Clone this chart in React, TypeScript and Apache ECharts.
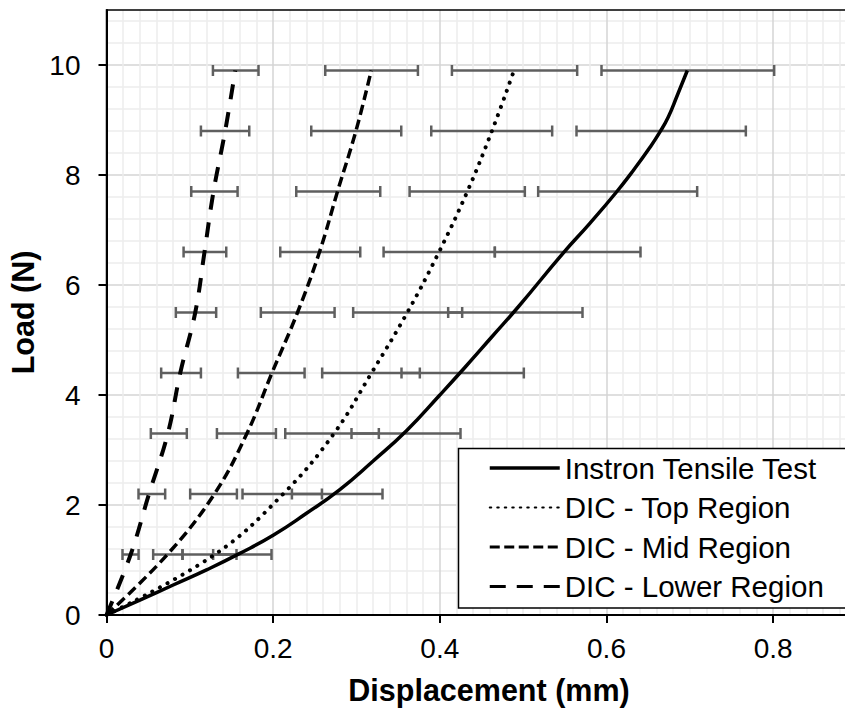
import React, { useEffect, useRef } from "react";
import * as echarts from "echarts";

// ---- Data ----
const dicLoads = [0, 1.1, 2.2, 3.3, 4.4, 5.5, 6.6, 7.7, 8.8, 9.9];
const topDisp = [0, 0.13, 0.212, 0.273, 0.318, 0.361, 0.399, 0.433, 0.4625, 0.489];
const midDisp = [0, 0.073, 0.1295, 0.1685, 0.1985, 0.2292, 0.2556, 0.2772, 0.2993, 0.3177];
const lowerDisp = [0, 0.029, 0.051, 0.0736, 0.0885, 0.1065, 0.1176, 0.1284, 0.1424, 0.1545];

const instronDisp = [0, 0.04, 0.08, 0.12, 0.16, 0.2, 0.24, 0.28, 0.32, 0.36, 0.4, 0.43, 0.462, 0.494, 0.548, 0.58, 0.6125, 0.633, 0.652, 0.664, 0.674, 0.685, 0.697];
const instronLoad = [0, 0.27, 0.545, 0.82, 1.12, 1.45, 1.85, 2.28, 2.8, 3.35, 4.0, 4.5, 5.05, 5.6, 6.58, 7.12, 7.7, 8.1, 8.5, 8.78, 9.05, 9.45, 9.9];

const barLoads = [1.1, 2.2, 3.3, 4.4, 5.5, 6.6, 7.7, 8.8, 9.9];
const lowerLo = [0.0192, 0.0384, 0.0532, 0.0656, 0.0832, 0.0925, 0.1017, 0.1133, 0.1277];
const lowerHi = [0.0385, 0.0704, 0.0964, 0.1133, 0.1316, 0.1437, 0.1573, 0.1713, 0.1824];
const midLo = [0.056, 0.1004, 0.1325, 0.1577, 0.1852, 0.2085, 0.2277, 0.2457, 0.2625];
const midHi = [0.0912, 0.1565, 0.2033, 0.2377, 0.2737, 0.3045, 0.3285, 0.3537, 0.3737];
const topLo = [0.0912, 0.1632, 0.2145, 0.2588, 0.296, 0.3325, 0.3637, 0.3897, 0.4145];
const topHi = [0.156, 0.2585, 0.3268, 0.376, 0.4268, 0.466, 0.502, 0.5348, 0.5648];
const instLo = [0.128, 0.2225, 0.294, 0.354, 0.41, 0.466, 0.518, 0.564, 0.594];
const instHi = [0.198, 0.3312, 0.4248, 0.5008, 0.5712, 0.6408, 0.7088, 0.7672, 0.8012];

const xTicks = [0, 0.2, 0.4, 0.6, 0.8];
const yTicks = [0, 2, 4, 6, 8, 10];

const names = ["Instron Tensile Test", "DIC - Top Region", "DIC - Mid Region", "DIC - Lower Region"];

const FONT = "'Liberation Sans', Arial, Helvetica, sans-serif";
const MAJOR = "#d4d4d4";
const MINOR = "#ededed";
const BAR = "#5f5f5f";
const X_MAX = 0.918;

function pairs(xs: number[], ys: number[]) {
  return xs.map((x, i) => [x, ys[i]]);
}
function bars(lo: number[], hi: number[]) {
  return barLoads.map((y, i) => [lo[i], hi[i], y]);
}

function errorSeries(name: string, data: number[][]) {
  return {
    type: "custom",
    name,
    xAxisIndex: 1,
    yAxisIndex: 1,
    z: 2,
    silent: true,
    encode: { x: [0, 1], y: 2 },
    data,
    renderItem: (params: any, api: any) => {
      const y = api.value(2);
      const a = api.coord([api.value(0), y]);
      const b = api.coord([api.value(1), y]);
      const h = 5.5;
      const st = { stroke: BAR, lineWidth: 2.5 };
      return {
        type: "group",
        children: [
          { type: "line", shape: { x1: a[0], y1: a[1], x2: b[0], y2: b[1] }, style: st },
          { type: "line", shape: { x1: a[0], y1: a[1] - h, x2: a[0], y2: a[1] + h }, style: st },
          { type: "line", shape: { x1: b[0], y1: b[1] - h, x2: b[0], y2: b[1] + h }, style: st },
        ],
      };
    },
  };
}

export default function App() {
  const ref = useRef<HTMLDivElement>(null);
  useEffect(() => {
    if (!ref.current) return;
    const chart = echarts.init(ref.current, undefined, { renderer: "svg" });
    const xMinorColors = [MAJOR, MINOR, MINOR, MINOR, MINOR, MINOR, MINOR, MINOR, MINOR, MINOR];
    const yMinorColors = [MAJOR, MINOR, MINOR, MINOR, MINOR];
    const option: any = {
      animation: false,
      backgroundColor: "#fff",
      grid: {
        left: 106.5,
        top: 10,
        width: 765,
        height: 605,
        outerBoundsMode: "none",
        containLabel: false,
        show: true,
        z: 1,
        backgroundColor: "transparent",
        borderColor: "#000",
        borderWidth: 1.5,
      },
      graphic: [
        {
          type: "rect",
          z: 8,
          silent: true,
          shape: { x: 458.5, y: 448.5, width: 440, height: 159.5 },
          style: { fill: "#fff", stroke: "#000", lineWidth: 1.5 },
        },
      ],
      xAxis: [
        {
          type: "value",
          min: 0,
          max: X_MAX,
          interval: 0.02,
          position: "bottom",
          z: 0,
          axisLine: { show: false },
          axisTick: { show: false },
          axisLabel: { show: false },
          splitLine: { show: true, showMaxLine: false, lineStyle: { color: xMinorColors, width: 1.5 } },
        },
        {
          type: "value",
          min: 0,
          max: X_MAX,
          interval: 0.2,
          position: "bottom",
          z: 1,
          axisLine: { show: true, onZero: false, lineStyle: { color: "#000", width: 2 } },
          axisTick: { show: true, inside: false, length: 8, customValues: xTicks, lineStyle: { color: "#000", width: 2 } },
          axisLabel: {
            show: true,
            customValues: xTicks,
            margin: 19,
            color: "#000",
            fontFamily: FONT,
            fontSize: 28,
            formatter: (v: number) => String(v),
          },
          splitLine: { show: false },
          name: "Displacement (mm)",
          nameLocation: "middle",
          nameGap: 59,
          nameTextStyle: { color: "#000", fontFamily: FONT, fontSize: 30.5, fontWeight: "bold" },
        },
      ],
      yAxis: [
        {
          type: "value",
          min: 0,
          max: 11,
          interval: 0.4,
          z: 0,
          axisLine: { show: false },
          axisTick: { show: false },
          axisLabel: { show: false },
          splitLine: { show: true, showMaxLine: false, lineStyle: { color: yMinorColors, width: 1.5 } },
        },
        {
          type: "value",
          min: 0,
          max: 11,
          interval: 2,
          position: "left",
          z: 1,
          axisLine: { show: true, onZero: false, lineStyle: { color: "#000", width: 2 } },
          axisTick: { show: true, inside: false, length: 8, customValues: yTicks, lineStyle: { color: "#000", width: 2 } },
          axisLabel: {
            show: true,
            customValues: yTicks,
            margin: 26,
            color: "#000",
            fontFamily: FONT,
            fontSize: 28,
            formatter: (v: number) => String(v),
          },
          splitLine: { show: false },
          name: "Load (N)",
          nameLocation: "middle",
          nameGap: 66,
          nameTextStyle: { color: "#000", fontFamily: FONT, fontSize: 30.5, fontWeight: "bold" },
        },
      ],
      legend: {
        show: true,
        orient: "vertical",
        left: 458,
        top: 448,
        padding: [5, 10, 6.5, 30],
        itemWidth: 70,
        itemHeight: 14,
        itemGap: 9.5,
        backgroundColor: "transparent",
        borderWidth: 0,
        z: 10,
        selectedMode: false,
        itemStyle: { opacity: 0 },
        textStyle: { color: "#000", fontFamily: FONT, fontSize: 29.5 },
        data: [
          { name: names[0], lineStyle: { width: 3.5, type: "solid" } },
          { name: names[1], lineStyle: { width: 2, type: [1.5, 6] } },
          { name: names[2], lineStyle: { width: 3, type: [10, 4.5] } },
          { name: names[3], lineStyle: { width: 3, type: [16, 11] } },
        ],
      },
      series: [
        errorSeries("err-lower", bars(lowerLo, lowerHi)),
        errorSeries("err-mid", bars(midLo, midHi)),
        errorSeries("err-top", bars(topLo, topHi)),
        errorSeries("err-instron", bars(instLo, instHi)),
        {
          type: "line",
          name: names[0],
          xAxisIndex: 1,
          yAxisIndex: 1,
          z: 3,
          symbol: "none",
          smooth: 0.5,
          data: pairs(instronDisp, instronLoad),
          lineStyle: { color: "#000", width: 3.5, type: "solid" },
          itemStyle: { color: "#000" },
        },
        {
          type: "line",
          name: names[1],
          xAxisIndex: 1,
          yAxisIndex: 1,
          z: 3,
          symbol: "none",
          smooth: 0.4,
          data: pairs(topDisp, dicLoads),
          lineStyle: { color: "#000", width: 4, type: [0.1, 8.5], cap: "round" },
          itemStyle: { color: "#000" },
        },
        {
          type: "line",
          name: names[2],
          xAxisIndex: 1,
          yAxisIndex: 1,
          z: 3,
          symbol: "none",
          smooth: 0.4,
          data: pairs(midDisp, dicLoads),
          lineStyle: { color: "#000", width: 3.5, type: [10, 5] },
          itemStyle: { color: "#000" },
        },
        {
          type: "line",
          name: names[3],
          xAxisIndex: 1,
          yAxisIndex: 1,
          z: 3,
          symbol: "none",
          smooth: 0.4,
          data: pairs(lowerDisp, dicLoads),
          lineStyle: { color: "#000", width: 4, type: [15, 13] },
          itemStyle: { color: "#000" },
        },
      ],
    };
    chart.setOption(option);
    return () => chart.dispose();
  }, []);
  return (
    <div
      ref={ref}
      style={{ position: "fixed", left: 0, top: 0, width: 845, height: 709, background: "#fff" }}
    />
  );
}
